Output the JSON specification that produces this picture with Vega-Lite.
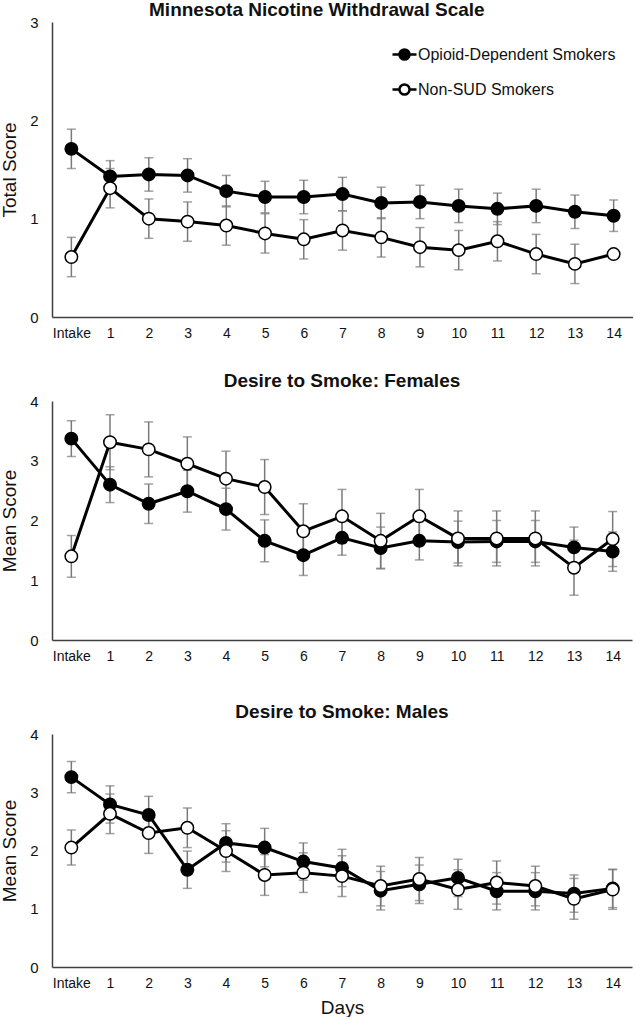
{
  "$schema": "https://vega.github.io/schema/vega-lite/v6.json",
  "padding": {"left": 0, "top": 1, "right": 0, "bottom": 0},
  "background": "white",
  "spacing": 32,
  "config": {
    "font": "Liberation Sans",
    "view": {"stroke": null},
    "axis": {"grid": false, "ticks": false, "domainColor": "#404040", "domainWidth": 1.5, "labelColor": "#111", "titleColor": "#111", "titleFontWeight": "normal", "labelOverlap": false},
    "axisX": {"labelFontSize": 14, "labelPadding": 9, "labelAngle": 0, "titleFontSize": 19, "titlePadding": 4},
    "axisY": {"labelFontSize": 15, "labelPadding": 14, "titleFontSize": 19, "titlePadding": 10, "format": "d"},
    "title": {"fontSize": 19, "fontWeight": "bold", "color": "#111", "anchor": "middle"}
  },
  "vconcat": [
    {
      "title": {"text": "Minnesota Nicotine Withdrawal Scale", "offset": -5, "frame": "bounds"},
      "width": 581,
      "height": 295,
      "data": {"values": [
        {"day": "Intake", "group": "Opioid-Dependent Smokers", "mean": 1.71, "se": 0.20},
        {"day": "1", "group": "Opioid-Dependent Smokers", "mean": 1.43, "se": 0.16},
        {"day": "2", "group": "Opioid-Dependent Smokers", "mean": 1.45, "se": 0.17},
        {"day": "3", "group": "Opioid-Dependent Smokers", "mean": 1.44, "se": 0.17},
        {"day": "4", "group": "Opioid-Dependent Smokers", "mean": 1.28, "se": 0.16},
        {"day": "5", "group": "Opioid-Dependent Smokers", "mean": 1.22, "se": 0.16},
        {"day": "6", "group": "Opioid-Dependent Smokers", "mean": 1.22, "se": 0.17},
        {"day": "7", "group": "Opioid-Dependent Smokers", "mean": 1.25, "se": 0.17},
        {"day": "8", "group": "Opioid-Dependent Smokers", "mean": 1.16, "se": 0.16},
        {"day": "9", "group": "Opioid-Dependent Smokers", "mean": 1.17, "se": 0.17},
        {"day": "10", "group": "Opioid-Dependent Smokers", "mean": 1.13, "se": 0.17},
        {"day": "11", "group": "Opioid-Dependent Smokers", "mean": 1.10, "se": 0.16},
        {"day": "12", "group": "Opioid-Dependent Smokers", "mean": 1.13, "se": 0.17},
        {"day": "13", "group": "Opioid-Dependent Smokers", "mean": 1.07, "se": 0.17},
        {"day": "14", "group": "Opioid-Dependent Smokers", "mean": 1.03, "se": 0.16},
        {"day": "Intake", "group": "Non-SUD Smokers", "mean": 0.61, "se": 0.20},
        {"day": "1", "group": "Non-SUD Smokers", "mean": 1.31, "se": 0.20},
        {"day": "2", "group": "Non-SUD Smokers", "mean": 1.00, "se": 0.20},
        {"day": "3", "group": "Non-SUD Smokers", "mean": 0.97, "se": 0.20},
        {"day": "4", "group": "Non-SUD Smokers", "mean": 0.93, "se": 0.20},
        {"day": "5", "group": "Non-SUD Smokers", "mean": 0.85, "se": 0.20},
        {"day": "6", "group": "Non-SUD Smokers", "mean": 0.79, "se": 0.20},
        {"day": "7", "group": "Non-SUD Smokers", "mean": 0.88, "se": 0.20},
        {"day": "8", "group": "Non-SUD Smokers", "mean": 0.81, "se": 0.20},
        {"day": "9", "group": "Non-SUD Smokers", "mean": 0.71, "se": 0.20},
        {"day": "10", "group": "Non-SUD Smokers", "mean": 0.68, "se": 0.20},
        {"day": "11", "group": "Non-SUD Smokers", "mean": 0.77, "se": 0.20},
        {"day": "12", "group": "Non-SUD Smokers", "mean": 0.64, "se": 0.20},
        {"day": "13", "group": "Non-SUD Smokers", "mean": 0.54, "se": 0.20},
        {"day": "14", "group": "Non-SUD Smokers", "mean": 0.64, "se": 0}
      ]},
      "encoding": {
        "x": {"field": "day", "type": "ordinal", "sort": ["Intake","1","2","3","4","5","6","7","8","9","10","11","12","13","14"], "scale": {"type": "point", "padding": 0.5}, "axis": {"title": null}}
      },
      "layer": [
        {"mark": {"type": "errorbar", "ticks": {"size": 9, "color": "#7a7a7a", "strokeWidth": 1.5}, "color": "#7a7a7a", "thickness": 1.5},
         "encoding": {"y": {"field": "mean", "type": "quantitative", "scale": {"domain": [0, 3]}, "axis": {"title": "Total Score", "values": [0,1,2,3]}}, "yError": {"field": "se"}, "detail": {"field": "group"}}},
        {"mark": {"type": "line", "color": "black", "strokeWidth": 3},
         "encoding": {"y": {"field": "mean", "type": "quantitative"}, "detail": {"field": "group"}}},
        {"mark": {"type": "point", "filled": true, "stroke": "black", "strokeWidth": 1.5, "size": 155, "opacity": 1, "shape": "circle"},
         "encoding": {"y": {"field": "mean", "type": "quantitative"},
           "fill": {"field": "group", "type": "nominal", "sort": ["Opioid-Dependent Smokers", "Non-SUD Smokers"], "scale": {"domain": ["Opioid-Dependent Smokers", "Non-SUD Smokers"], "range": ["black", "white"]},
             "legend": {"title": null, "orient": "none", "legendX": 339, "legendY": 19, "symbolType": "M -1 0 L -0.42 0 M 0.42 0 L 1 0 M 0.42 0 C 0.42 0.23 0.23 0.42 0 0.42 C -0.23 0.42 -0.42 0.23 -0.42 0 C -0.42 -0.23 -0.23 -0.42 0 -0.42 C 0.23 -0.42 0.42 -0.23 0.42 0 Z", "symbolSize": 576, "symbolStrokeColor": "black", "symbolStrokeWidth": 2.5, "symbolOpacity": 1, "labelFontSize": 16, "labelColor": "#111", "labelOffset": 0, "labelLimit": 400, "rowPadding": 11, "padding": 0}}}}
      ]
    },
    {
      "title": {"text": "Desire to Smoke: Females", "offset": 3, "frame": "group"},
      "width": 580,
      "height": 239,
      "data": {"values": [
        {"day": "Intake", "group": "Opioid-Dependent Smokers", "mean": 3.37, "se": 0.30},
        {"day": "1", "group": "Opioid-Dependent Smokers", "mean": 2.60, "se": 0.30},
        {"day": "2", "group": "Opioid-Dependent Smokers", "mean": 2.28, "se": 0.33},
        {"day": "3", "group": "Opioid-Dependent Smokers", "mean": 2.49, "se": 0.35},
        {"day": "4", "group": "Opioid-Dependent Smokers", "mean": 2.19, "se": 0.35},
        {"day": "5", "group": "Opioid-Dependent Smokers", "mean": 1.66, "se": 0.35},
        {"day": "6", "group": "Opioid-Dependent Smokers", "mean": 1.42, "se": 0.34},
        {"day": "7", "group": "Opioid-Dependent Smokers", "mean": 1.71, "se": 0.29},
        {"day": "8", "group": "Opioid-Dependent Smokers", "mean": 1.54, "se": 0.35},
        {"day": "9", "group": "Opioid-Dependent Smokers", "mean": 1.66, "se": 0.32},
        {"day": "10", "group": "Opioid-Dependent Smokers", "mean": 1.64, "se": 0.35},
        {"day": "11", "group": "Opioid-Dependent Smokers", "mean": 1.65, "se": 0.35},
        {"day": "12", "group": "Opioid-Dependent Smokers", "mean": 1.65, "se": 0.35},
        {"day": "13", "group": "Opioid-Dependent Smokers", "mean": 1.55, "se": 0.34},
        {"day": "14", "group": "Opioid-Dependent Smokers", "mean": 1.48, "se": 0.33},
        {"day": "Intake", "group": "Non-SUD Smokers", "mean": 1.40, "se": 0.35},
        {"day": "1", "group": "Non-SUD Smokers", "mean": 3.31, "se": 0.46},
        {"day": "2", "group": "Non-SUD Smokers", "mean": 3.19, "se": 0.46},
        {"day": "3", "group": "Non-SUD Smokers", "mean": 2.95, "se": 0.45},
        {"day": "4", "group": "Non-SUD Smokers", "mean": 2.70, "se": 0.46},
        {"day": "5", "group": "Non-SUD Smokers", "mean": 2.56, "se": 0.46},
        {"day": "6", "group": "Non-SUD Smokers", "mean": 1.82, "se": 0.46},
        {"day": "7", "group": "Non-SUD Smokers", "mean": 2.07, "se": 0.45},
        {"day": "8", "group": "Non-SUD Smokers", "mean": 1.66, "se": 0.46},
        {"day": "9", "group": "Non-SUD Smokers", "mean": 2.07, "se": 0.45},
        {"day": "10", "group": "Non-SUD Smokers", "mean": 1.70, "se": 0.46},
        {"day": "11", "group": "Non-SUD Smokers", "mean": 1.70, "se": 0.46},
        {"day": "12", "group": "Non-SUD Smokers", "mean": 1.70, "se": 0.46},
        {"day": "13", "group": "Non-SUD Smokers", "mean": 1.21, "se": 0.46},
        {"day": "14", "group": "Non-SUD Smokers", "mean": 1.69, "se": 0.46}
      ]},
      "encoding": {
        "x": {"field": "day", "type": "ordinal", "sort": ["Intake","1","2","3","4","5","6","7","8","9","10","11","12","13","14"], "scale": {"type": "point", "padding": 0.5}, "axis": {"title": " ", "titleFontSize": 6, "titlePadding": 2}}
      },
      "layer": [
        {"mark": {"type": "errorbar", "ticks": {"size": 9, "color": "#7a7a7a", "strokeWidth": 1.5}, "color": "#7a7a7a", "thickness": 1.5},
         "encoding": {"y": {"field": "mean", "type": "quantitative", "scale": {"domain": [0, 4]}, "axis": {"title": "Mean Score", "values": [0,1,2,3,4]}}, "yError": {"field": "se"}, "detail": {"field": "group"}}},
        {"mark": {"type": "line", "color": "black", "strokeWidth": 3},
         "encoding": {"y": {"field": "mean", "type": "quantitative"}, "detail": {"field": "group"}}},
        {"mark": {"type": "point", "filled": true, "stroke": "black", "strokeWidth": 1.5, "size": 155, "opacity": 1, "shape": "circle"},
         "encoding": {"y": {"field": "mean", "type": "quantitative"},
           "fill": {"field": "group", "type": "nominal", "scale": {"domain": ["Opioid-Dependent Smokers", "Non-SUD Smokers"], "range": ["black", "white"]}, "legend": null}}}
      ]
    },
    {
      "title": {"text": "Desire to Smoke: Males", "offset": 5, "frame": "group"},
      "width": 580,
      "height": 233,
      "data": {"values": [
        {"day": "Intake", "group": "Opioid-Dependent Smokers", "mean": 3.26, "se": 0.27},
        {"day": "1", "group": "Opioid-Dependent Smokers", "mean": 2.79, "se": 0.32},
        {"day": "2", "group": "Opioid-Dependent Smokers", "mean": 2.61, "se": 0.32},
        {"day": "3", "group": "Opioid-Dependent Smokers", "mean": 1.67, "se": 0.32},
        {"day": "4", "group": "Opioid-Dependent Smokers", "mean": 2.13, "se": 0.33},
        {"day": "5", "group": "Opioid-Dependent Smokers", "mean": 2.05, "se": 0.33},
        {"day": "6", "group": "Opioid-Dependent Smokers", "mean": 1.81, "se": 0.32},
        {"day": "7", "group": "Opioid-Dependent Smokers", "mean": 1.70, "se": 0.32},
        {"day": "8", "group": "Opioid-Dependent Smokers", "mean": 1.31, "se": 0.33},
        {"day": "9", "group": "Opioid-Dependent Smokers", "mean": 1.42, "se": 0.33},
        {"day": "10", "group": "Opioid-Dependent Smokers", "mean": 1.53, "se": 0.32},
        {"day": "11", "group": "Opioid-Dependent Smokers", "mean": 1.30, "se": 0.32},
        {"day": "12", "group": "Opioid-Dependent Smokers", "mean": 1.30, "se": 0.32},
        {"day": "13", "group": "Opioid-Dependent Smokers", "mean": 1.26, "se": 0.32},
        {"day": "14", "group": "Opioid-Dependent Smokers", "mean": 1.35, "se": 0.33},
        {"day": "Intake", "group": "Non-SUD Smokers", "mean": 2.05, "se": 0.30},
        {"day": "1", "group": "Non-SUD Smokers", "mean": 2.63, "se": 0.34},
        {"day": "2", "group": "Non-SUD Smokers", "mean": 2.30, "se": 0.35},
        {"day": "3", "group": "Non-SUD Smokers", "mean": 2.39, "se": 0.34},
        {"day": "4", "group": "Non-SUD Smokers", "mean": 1.99, "se": 0.35},
        {"day": "5", "group": "Non-SUD Smokers", "mean": 1.58, "se": 0.35},
        {"day": "6", "group": "Non-SUD Smokers", "mean": 1.62, "se": 0.34},
        {"day": "7", "group": "Non-SUD Smokers", "mean": 1.56, "se": 0.35},
        {"day": "8", "group": "Non-SUD Smokers", "mean": 1.39, "se": 0.34},
        {"day": "9", "group": "Non-SUD Smokers", "mean": 1.51, "se": 0.37},
        {"day": "10", "group": "Non-SUD Smokers", "mean": 1.33, "se": 0.34},
        {"day": "11", "group": "Non-SUD Smokers", "mean": 1.45, "se": 0.37},
        {"day": "12", "group": "Non-SUD Smokers", "mean": 1.39, "se": 0.34},
        {"day": "13", "group": "Non-SUD Smokers", "mean": 1.17, "se": 0.35},
        {"day": "14", "group": "Non-SUD Smokers", "mean": 1.33, "se": 0.34}
      ]},
      "encoding": {
        "x": {"field": "day", "type": "ordinal", "sort": ["Intake","1","2","3","4","5","6","7","8","9","10","11","12","13","14"], "scale": {"type": "point", "padding": 0.5}, "axis": {"title": "Days", "titlePadding": 8}}
      },
      "layer": [
        {"mark": {"type": "errorbar", "ticks": {"size": 9, "color": "#7a7a7a", "strokeWidth": 1.5}, "color": "#7a7a7a", "thickness": 1.5},
         "encoding": {"y": {"field": "mean", "type": "quantitative", "scale": {"domain": [0, 4]}, "axis": {"title": "Mean Score", "values": [0,1,2,3,4]}}, "yError": {"field": "se"}, "detail": {"field": "group"}}},
        {"mark": {"type": "line", "color": "black", "strokeWidth": 3},
         "encoding": {"y": {"field": "mean", "type": "quantitative"}, "detail": {"field": "group"}}},
        {"mark": {"type": "point", "filled": true, "stroke": "black", "strokeWidth": 1.5, "size": 155, "opacity": 1, "shape": "circle"},
         "encoding": {"y": {"field": "mean", "type": "quantitative"},
           "fill": {"field": "group", "type": "nominal", "scale": {"domain": ["Opioid-Dependent Smokers", "Non-SUD Smokers"], "range": ["black", "white"]}, "legend": null}}}
      ]
    }
  ]
}
